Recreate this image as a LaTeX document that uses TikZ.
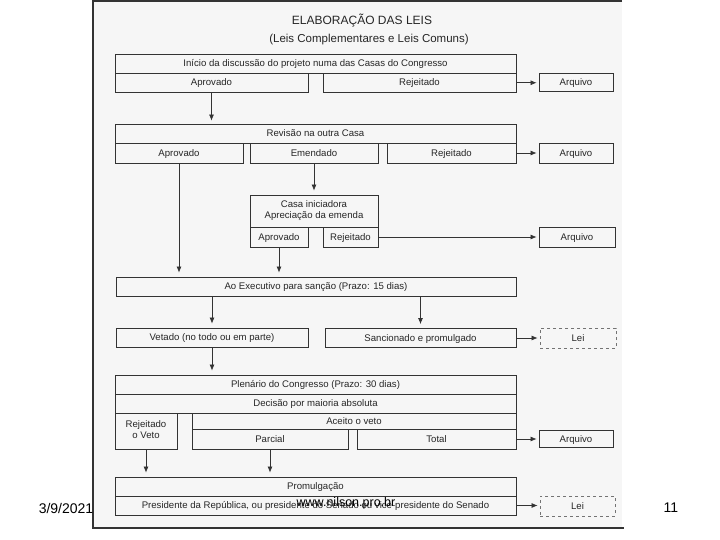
\documentclass[tikz,border=0pt]{standalone}
\usepackage{fontspec}
\setmainfont{Liberation Sans}
\usetikzlibrary{arrows.meta,calc}
\begin{document}
\begin{tikzpicture}[x=1pt,y=-1pt,
  cell/.style={draw=black!80,line width=0.8pt,inner sep=0pt,align=center,text=black!85,
    execute at begin node={\vphantom{Ág}},font=\fontsize{9.6}{11}\selectfont},
  sz/.style 2 args={minimum width=#1pt,minimum height=#2pt},
  lei/.style={cell,draw=black!55,dashed},
  arr/.style={-{Latex[length=6pt,width=5pt]},line width=0.7pt,black!80,shorten >=2pt},
  foot/.style={font=\fontsize{14}{16}\selectfont,inner sep=0pt}]
\useasboundingbox (0,0) rectangle (720,540);
\fill[gray!7] (93,0) rectangle (622,528);
\draw[black!80,line width=1.2pt] (622,1) -- (93,1) -- (93,528) -- (624,528);

\node[font=\fontsize{12}{14}\selectfont,text=black!85] (titulo) at (362,21) {ELABORAÇÃO DAS LEIS};
\node[font=\fontsize{11.5}{13}\selectfont,text=black!85] (subtitulo) at (369,40) {(Leis Complementares e Leis Comuns)};

\node[cell,sz={401}{19}] (inicio) at (315.5,63.5) {Início da discussão do projeto numa das Casas do Congresso};
\node[cell,sz={193}{19.5}] (aprov1) at (211.5,82.75) {Aprovado};
\node[cell,sz={193}{19.5}] (rejeit1) at (419.5,82.75) {Rejeitado};
\node[cell,sz={74}{18}] (arq1) at (576,82.75) {Arquivo};

\node[cell,sz={401}{19}] (revisao) at (315.5,133.5) {Revisão na outra Casa};
\node[cell,sz={128}{20}] (aprov2) at (179,153) {Aprovado};
\node[cell,sz={128}{20}] (emend) at (314,153) {Emendado};
\node[cell,sz={129}{20}] (rejeit2) at (451.5,153) {Rejeitado};
\node[cell,sz={74}{20}] (arq2) at (576,153) {Arquivo};

\node[cell,sz={128}{32}] (casa) at (314,211) {Casa iniciadora\\Apreciação da emenda};
\node[cell,sz={58}{20}] (aprov3) at (279,237) {Aprovado};
\node[cell,sz={55}{20}] (rejeit3) at (350.5,237) {Rejeitado};
\node[cell,sz={76}{20}] (arq3) at (577,237) {Arquivo};

\node[cell,sz={400}{19}] (exec) at (316,286.5) {Ao Executivo para sanção (Prazo: 15 dias)};
\node[cell,sz={192}{19}] (vetado) at (212,337.5) {Vetado (no todo ou em parte)};
\node[cell,sz={191}{19}] (sancion) at (420.5,338) {Sancionado e promulgado};
\node[lei,sz={76}{20}] (lei1) at (578,338) {Lei};

\node[cell,sz={401}{19}] (plen) at (315.5,384.5) {Plenário do Congresso (Prazo: 30 dias)};
\node[cell,sz={401}{19}] (decis) at (315.5,403.5) {Decisão por maioria absoluta};
\node[cell,sz={62}{36}] (rejveto) at (146,431) {Rejeitado\\o Veto};
\node[cell,sz={324}{16}] (aceito) at (354,421) {Aceito o veto};
\node[cell,sz={156}{20}] (parcial) at (270,439) {Parcial};
\node[cell,sz={159}{20}] (total) at (436.5,439) {Total};
\node[cell,sz={74}{17}] (arq4) at (576,439) {Arquivo};

\node[cell,sz={401}{19}] (promul) at (315.5,486.5) {Promulgação};
\node[cell,sz={401}{19}] (presid) at (315.5,505.5) {Presidente da República, ou presidente do Senado ou vice-presidente do Senado};
\node[lei,sz={75}{20}] (lei2) at (577.5,506) {Lei};

\draw[arr] (rejeit1) -- (arq1);
\draw[arr] (rejeit2) -- (arq2);
\draw[arr] (rejeit3) -- (arq3);
\draw[arr] (sancion) -- (lei1);
\draw[arr] (total) -- (arq4);
\draw[arr] (presid.east) -- (presid.east -| lei2.west);
\draw[arr,shorten >=3pt] (aprov1.south) -- (aprov1.south |- revisao.north);
\draw[arr,shorten >=4pt] (emend) -- (casa);
\draw[arr,shorten >=4pt] (aprov2.south) -- (aprov2.south |- exec.north);
\draw[arr,shorten >=4pt] (aprov3.south) -- (aprov3.south |- exec.north);
\draw[arr,shorten >=4pt] (vetado.north |- exec.south) -- (vetado.north);
\draw[arr,shorten >=4pt] (sancion.north |- exec.south) -- (sancion.north);
\draw[arr,shorten >=4pt] (vetado.south) -- (vetado.south |- plen.north);
\draw[arr,shorten >=4pt] (rejveto.south) -- (rejveto.south |- promul.north);
\draw[arr,shorten >=4pt] (parcial.south) -- (parcial.south |- promul.north);

\node[foot] (data) at (66,508) {3/9/2021};
\node[foot,font=\fontsize{12.5}{14}\selectfont] (site) at (346,503) {www.nilson.pro.br};
\node[foot] (pagina) at (671,508) {11};
\end{tikzpicture}
\end{document}
